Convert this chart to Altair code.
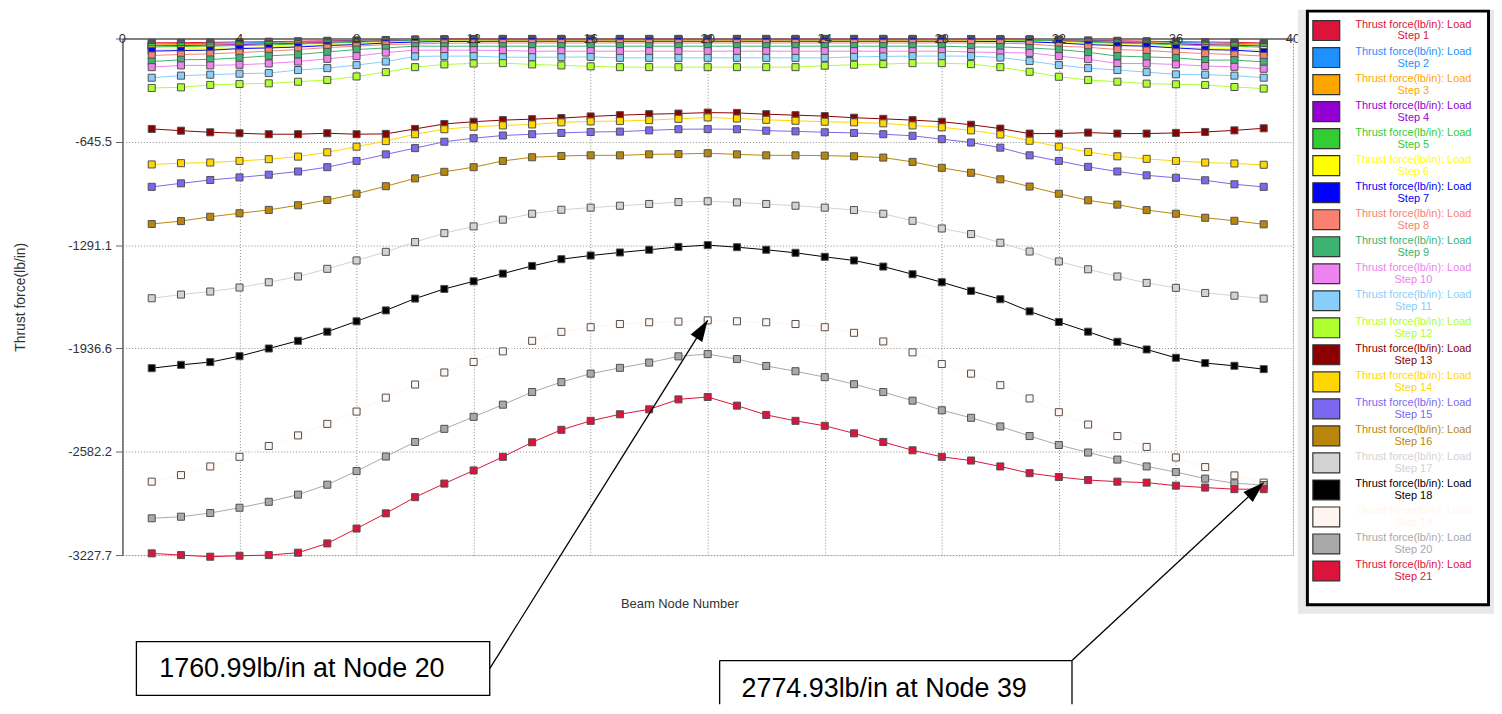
import altair as alt
import pandas as pd

nodes = list(range(1, 40))
step_names = [f"Step {i}" for i in range(1, 22)]
colors = ["#DC143C", "#1E90FF", "#FFA500", "#9400D3", "#32CD32", "#FFFF00", "#0000FF",
          "#FA8072", "#3CB371", "#EE82EE", "#87CEFA", "#ADFF2F", "#8B0000", "#FFD700",
          "#7B68EE", "#B8860B", "#D3D3D3", "#000000", "#FFF5EE", "#A9A9A9", "#DC143C"]

step01 = [-27,-26,-24,-22,-20,-17,-14,-12,-9,-6,-4,-3,-2,-2,-2,-2,-2,-2,-2,-2,-2,-2,-2,-2,-2,-2,-2,-2,-3,-4,-5,-7,-12,-14,-17,-20,-22,-24,-28]
step02 = [-34,-32,-31,-28,-25,-22,-18,-15,-11,-8,-6,-5,-4,-4,-4,-4,-4,-4,-4,-4,-4,-4,-4,-4,-4,-4,-4,-4,-5,-6,-7,-9,-15,-18,-21,-25,-28,-31,-35]
step03 = [-40,-38,-36,-33,-30,-26,-22,-18,-13,-9,-7,-6,-5,-5,-5,-5,-5,-5,-5,-5,-5,-5,-5,-5,-5,-5,-5,-5,-6,-7,-8,-11,-18,-22,-25,-30,-34,-36,-41]
step04 = [-46,-44,-42,-38,-34,-30,-25,-20,-15,-11,-9,-8,-7,-7,-7,-7,-7,-7,-7,-7,-7,-7,-7,-7,-7,-7,-7,-7,-8,-9,-10,-13,-20,-25,-29,-34,-39,-42,-47]
step05 = [-53,-50,-48,-44,-40,-35,-29,-24,-18,-13,-11,-10,-9,-9,-9,-9,-9,-9,-9,-9,-9,-9,-9,-9,-9,-9,-9,-9,-10,-11,-12,-15,-24,-29,-33,-40,-45,-48,-55]
step06 = [-69,-66,-63,-57,-52,-46,-38,-32,-24,-18,-15,-14,-13,-13,-13,-13,-13,-13,-13,-13,-13,-13,-13,-13,-13,-13,-13,-13,-14,-15,-17,-22,-32,-38,-42,-52,-60,-64,-72]
step07 = [-79,-75,-73,-63,-59,-53,-44,-38,-28,-22,-19,-18,-17,-17,-17,-17,-17,-17,-17,-17,-17,-17,-17,-17,-17,-17,-17,-17,-18,-19,-21,-28,-38,-44,-48,-59,-69,-73,-84]
step08 = [-106,-100,-96,-88,-79,-69,-57,-48,-38,-34,-30,-29,-28,-28,-28,-28,-28,-28,-28,-28,-28,-28,-28,-28,-28,-28,-28,-28,-28,-29,-34,-48,-55,-69,-75,-86,-94,-100,-110]
step09 = [-144,-133,-131,-121,-108,-100,-84,-69,-59,-48,-48,-48,-48,-48,-48,-48,-48,-48,-48,-48,-48,-48,-48,-48,-48,-48,-48,-48,-53,-53,-59,-69,-86,-110,-115,-121,-135,-135,-146]
step10 = [-179,-168,-168,-164,-156,-144,-127,-110,-88,-73,-73,-73,-75,-79,-79,-79,-79,-79,-79,-79,-79,-79,-79,-79,-79,-79,-79,-79,-84,-88,-90,-110,-129,-156,-156,-162,-172,-177,-189]
step11 = [-245,-232,-226,-220,-216,-197,-185,-166,-144,-112,-110,-110,-117,-117,-117,-115,-121,-121,-121,-121,-121,-121,-121,-121,-115,-112,-110,-110,-110,-119,-141,-166,-185,-197,-210,-224,-226,-232,-245]
step12 = [-309,-305,-290,-284,-280,-270,-259,-237,-210,-179,-162,-156,-154,-162,-168,-174,-179,-179,-179,-179,-179,-179,-179,-170,-164,-160,-154,-154,-160,-179,-208,-239,-259,-270,-282,-286,-290,-303,-313]
step13 = [-565,-576,-586,-592,-598,-598,-592,-598,-596,-565,-534,-520,-510,-504,-497,-487,-479,-473,-469,-463,-465,-473,-479,-485,-495,-502,-510,-520,-539,-563,-594,-594,-588,-594,-594,-590,-584,-574,-561]
step14 = [-787,-779,-775,-765,-754,-738,-711,-676,-641,-598,-567,-551,-543,-537,-524,-518,-516,-510,-502,-493,-500,-508,-514,-520,-524,-530,-543,-555,-574,-600,-639,-676,-709,-736,-752,-765,-775,-781,-789]
step15 = [-927,-905,-884,-868,-851,-831,-804,-765,-724,-685,-645,-623,-606,-598,-590,-584,-582,-574,-567,-566,-567,-576,-580,-586,-590,-598,-608,-629,-650,-682,-730,-765,-802,-831,-855,-870,-886,-911,-927]
step16 = [-1159,-1141,-1114,-1092,-1071,-1042,-1009,-970,-923,-874,-833,-804,-765,-742,-734,-730,-730,-724,-722,-717,-724,-730,-730,-732,-736,-744,-771,-808,-839,-880,-925,-970,-1011,-1038,-1072,-1095,-1120,-1139,-1161]
step17 = [-1623,-1600,-1581,-1556,-1523,-1487,-1439,-1387,-1333,-1272,-1216,-1174,-1132,-1095,-1070,-1057,-1045,-1034,-1022,-1017,-1024,-1034,-1045,-1057,-1072,-1095,-1139,-1187,-1222,-1276,-1331,-1393,-1442,-1487,-1527,-1558,-1590,-1607,-1625]
step18 = [-2060,-2039,-2022,-1985,-1937,-1889,-1832,-1767,-1699,-1625,-1565,-1517,-1469,-1421,-1379,-1356,-1337,-1320,-1302,-1291,-1304,-1320,-1339,-1364,-1387,-1425,-1473,-1523,-1577,-1629,-1705,-1771,-1832,-1895,-1943,-1995,-2028,-2045,-2066]
step19 = [-2769,-2728,-2674,-2614,-2546,-2480,-2408,-2331,-2244,-2162,-2087,-2021,-1955,-1889,-1833,-1804,-1784,-1773,-1769,-1760.99,-1767,-1773,-1784,-1804,-1839,-1893,-1961,-2034,-2094,-2166,-2249,-2335,-2412,-2484,-2552,-2618,-2678,-2730,-2774.93]
step20 = [-2998,-2988,-2965,-2932,-2895,-2850,-2788,-2703,-2612,-2521,-2439,-2364,-2288,-2209,-2147,-2094,-2058,-2025,-1986,-1972,-2003,-2046,-2079,-2116,-2160,-2209,-2263,-2323,-2370,-2424,-2484,-2540,-2587,-2631,-2674,-2709,-2750,-2779,-2790]
step21 = [-3217,-3228,-3238,-3232,-3228,-3213,-3155,-3062,-2967,-2866,-2781,-2699,-2614,-2523,-2445,-2389,-2348,-2317,-2255,-2240,-2294,-2352,-2389,-2420,-2467,-2521,-2573,-2614,-2637,-2674,-2716,-2740,-2759,-2769,-2775,-2794,-2806,-2816,-2816]

series = [step01, step02, step03, step04, step05, step06, step07, step08, step09, step10, step11,
          step12, step13, step14, step15, step16, step17, step18, step19, step20, step21]

y_ticks = [0, -645.5, -1291.1, -1936.6, -2582.2, -3227.7]
x_ticks = [0, 4, 8, 12, 16, 20, 24, 28, 32, 36, 40]
ann_texts = ["1760.99lb/in at Node 20", "2774.93lb/in at Node 39"]
ann_nodes = [20, 39]
ann_step = 19

rows = []
for name, vals in zip(step_names, series):
    for n, v in zip(nodes, vals):
        rows.append({"step": name, "node": n, "value": v})
df = pd.DataFrame(rows)

FONT = "Liberation Sans"
xs = alt.Scale(domain=[0, 40], nice=False, zero=False)
ys = alt.Scale(domain=[-3227.7, 0], nice=False, zero=False)
cscale = alt.Scale(domain=step_names, range=colors)

x_axis = alt.Axis(orient="top", values=x_ticks, title=None, labels=False,
                  ticks=False, domainColor="#808080", domainWidth=2, grid=True,
                  gridColor="#8c8c8c", gridDash=[1, 2], gridWidth=1)
y_axis = alt.Axis(values=y_ticks,
                  labelExpr="datum.value == 0 ? '' : '-' + format(-datum.value, '.1f')",
                  title="Thrust force(lb/in)", titleFontSize=14, titleFontWeight="normal",
                  titleColor="#333", titleFont=FONT, titlePadding=40, labelFontSize=13,
                  labelColor="#333", labelFont=FONT, labelPadding=4, tickSize=7,
                  tickColor="#666", domainColor="#666", domainWidth=1.5, grid=True,
                  gridColor="#8c8c8c", gridDash=[1, 2], gridWidth=1, labelOverlap=False)

X = alt.X("node:Q", scale=xs, axis=x_axis)
Y = alt.Y("value:Q", scale=ys, axis=y_axis)

base = alt.Chart(df)
lines = base.mark_line(strokeWidth=1).encode(
    x=X, y=Y, color=alt.Color("step:N", scale=cscale, legend=None))
points = base.mark_square(size=50, stroke="#505050", strokeWidth=1, opacity=1).encode(
    x=X, y=Y, fill=alt.Fill("step:N", scale=cscale, legend=None))

# x tick labels drawn above the data, straddling the top axis line
xlab = alt.Chart(pd.DataFrame({"node": x_ticks})).mark_text(
    fontSize=13, font=FONT, color="#333", align="center", baseline="middle").encode(
    x=X, y=alt.value(1), text=alt.Text("node:Q", format="d"))

arrow_layers = []
starts = [(369, 633, 32.2), (954, 625, 47.3)]
for (sx, sy, ang), nd in zip(starts, ann_nodes):
    adf = pd.DataFrame({"node": [nd], "value": [series[ann_step - 1][nd - 1]]})
    rule = alt.Chart(adf).mark_rule(color="black", strokeWidth=1.3).encode(
        x=X, y=Y, x2=alt.value(sx), y2=alt.value(sy))
    head = alt.Chart(adf).mark_point(shape="M0,0L-0.55,1.7L0.55,1.7Z", filled=True,
                                      color="black", size=625, angle=ang, opacity=1,
                                      strokeWidth=0).encode(x=X, y=Y)
    arrow_layers += [rule, head]

main = alt.layer(lines, points, xlab, *arrow_layers)

one = pd.DataFrame({"a": [0]})
leg_df = pd.DataFrame({"step": step_names,
                       "label": [f"Thrust force(lb/in): Load\n{s}" for s in step_names]})
y_leg = alt.Y("step:N", scale=alt.Scale(type="point", domain=step_names, range=[-8, 535],
                                         padding=0), axis=None)
leg_bg = alt.Chart(one).mark_rect(fill="#e8e8e8", strokeWidth=0).encode(
    x=alt.value(1181), x2=alt.value(1378), y=alt.value(-29), y2=alt.value(578))
leg_box = alt.Chart(one).mark_rect(fill="white", stroke="black", strokeWidth=3).encode(
    x=alt.value(1190.5), x2=alt.value(1372.5), y=alt.value(-27.5), y2=alt.value(569))
swatch = alt.Chart(leg_df).mark_point(shape="M-1.35,-1L1.35,-1L1.35,1L-1.35,1Z", size=400,
                                      filled=True, stroke="#333", strokeWidth=1.2,
                                      opacity=1).encode(
    x=alt.value(1209.5), y=y_leg,
    fill=alt.Fill("step:N", scale=cscale, legend=None))
leg_text = alt.Chart(leg_df).mark_text(lineBreak="\n", fontSize=11, font=FONT, align="center",
                                       baseline="middle", lineHeight=12, dy=-6).encode(
    x=alt.value(1297), y=y_leg, text="label:N",
    color=alt.Color("step:N", scale=cscale, legend=None))
legend = alt.layer(leg_bg, leg_box, swatch, leg_text)

xtitle = alt.Chart(one).mark_text(text="Beam Node Number", fontSize=13, font=FONT,
                                  color="#333", align="center", baseline="middle").encode(
    x=alt.value(560), y=alt.value(568))
box1 = alt.Chart(one).mark_rect(fill="white", stroke="black", strokeWidth=1.3).encode(
    x=alt.value(14), x2=alt.value(369), y=alt.value(606), y2=alt.value(660))
txt1 = alt.Chart(one).mark_text(text=ann_texts[0], fontSize=27, font=FONT, color="black",
                                align="left", baseline="middle").encode(
    x=alt.value(37), y=alt.value(634))
b2l = alt.Chart(one).mark_rule(color="black", strokeWidth=1.3).encode(
    x=alt.value(600), x2=alt.value(600), y=alt.value(625), y2=alt.value(669))
b2t = alt.Chart(one).mark_rule(color="black", strokeWidth=1.3).encode(
    x=alt.value(600), x2=alt.value(954), y=alt.value(625), y2=alt.value(625))
b2r = alt.Chart(one).mark_rule(color="black", strokeWidth=1.3).encode(
    x=alt.value(954), x2=alt.value(954), y=alt.value(625), y2=alt.value(669))
txt2 = alt.Chart(one).mark_text(text=ann_texts[1], fontSize=27, font=FONT, color="black",
                                align="left", baseline="middle").encode(
    x=alt.value(622), y=alt.value(654))
annots = alt.layer(xtitle, box1, txt1, b2l, b2t, b2r, txt2)

chart = alt.layer(main, legend, annots).resolve_scale(
    x="independent", y="independent"
).properties(
    width=1176, height=519,
    padding={"left": 5, "top": 0, "right": 0, "bottom": 0},
).configure_view(strokeWidth=0).configure(font=FONT)

chart.save("out.html", embed_options={"renderer": "svg", "actions": False})
